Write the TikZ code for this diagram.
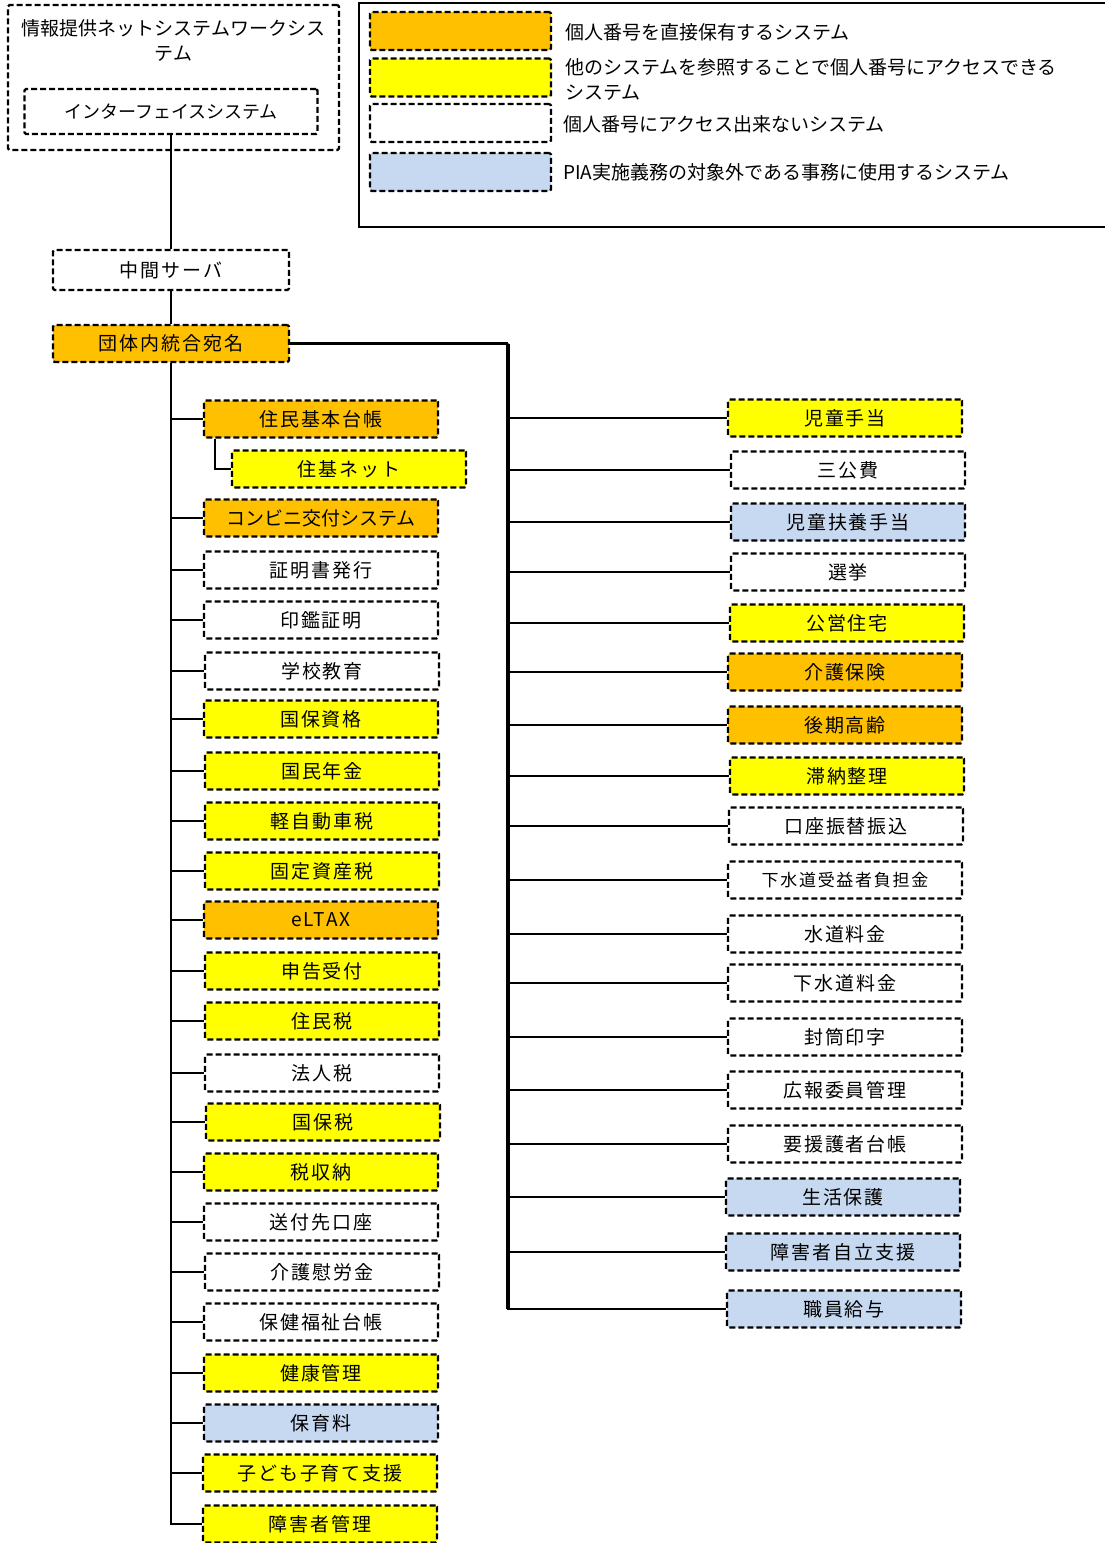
\documentclass[tikz,border=0pt]{standalone}
\usepackage{fontspec}
\setmainfont{Noto Sans CJK JP}
\newfontfamily\boxfont[LetterSpace=10]{Noto Sans CJK JP}
\usetikzlibrary{positioning}
\definecolor{holdcol}{HTML}{FFC000}
\definecolor{refcol}{HTML}{FFFF00}
\definecolor{excol}{HTML}{C6D9F0}

\begin{document}
\begin{tikzpicture}[x=1pt,y=1pt,
plainbox/.style={draw,rectangle,fill=white,dash pattern=on 6pt off 3pt,line width=2.2pt,rounded corners=1.5pt,
    minimum width=234pt,minimum height=37pt,inner sep=0pt,font=\boxfont\fontsize{19}{23}\selectfont},
holdbox/.style={plainbox,fill=holdcol},
refbox/.style={plainbox,fill=refcol},
exbox/.style={plainbox,fill=excol},
link/.style={line width=2.2pt},
legtext/.style={anchor=west,align=left,inner sep=0pt,font=\fontsize{19}{25}\selectfont}]
\useasboundingbox (0,0) rectangle (1105,-1543);

\node (jnws) [plainbox,minimum width=331pt,minimum height=145pt] at (173.5,-77.5) {};
\node (jnwstext) [align=center,inner sep=0pt,font=\fontsize{19}{25}\selectfont] at (173.5,-40) {情報提供ネットシステムワークシス\\テム};
\node (ifsys) [plainbox,minimum width=293pt,minimum height=45pt,font=\fontsize{18}{22}\selectfont] at (171,-111.5) {インターフェイスシステム};
\node (chukan) [plainbox,minimum width=236pt,minimum height=40pt] at (171,-270) {中間サーバ};
\node (aten) [holdbox,minimum width=236pt] at (171,-343.5) {団体内統合宛名};

\draw[line width=2.2pt] (359,-3) rectangle (1110,-227);
\node (leghold) [holdbox,minimum width=181pt,minimum height=38pt] at (460.5,-31) {};
\node (legref) [refbox,minimum width=181pt,minimum height=38pt] at (460.5,-77.5) {};
\node (legplain) [plainbox,minimum width=181pt,minimum height=38pt] at (460.5,-123) {};
\node (legex) [exbox,minimum width=181pt,minimum height=38pt] at (460.5,-172) {};
\node (legholdtext) [legtext] at (565,-32) {個人番号を直接保有するシステム};
\node (legreftext) [legtext] at (565,-79.5) {他のシステムを参照することで個人番号にアクセスできる\\システム};
\node (legplaintext) [legtext] at (563,-124) {個人番号にアクセス出来ないシステム};
\node (legextext) [legtext] at (563,-172) {PIA実施義務の対象外である事務に使用するシステム};

\node (jumin) [holdbox] at (321,-419) {住民基本台帳};
\node (jukinet) [refbox] at (349,-469) {住基ネット};
\node (conv) [holdbox,font=\fontsize{19}{23}\selectfont] at (321,-518) {コンビニ交付システム};
\node (shomei) [plainbox] at (321,-570) {証明書発行};
\node (inkan) [plainbox] at (321,-620) {印鑑証明};
\node (gakko) [plainbox] at (322,-671) {学校教育};
\node (kokuhoshi) [refbox] at (321,-719) {国保資格};
\node (nenkin) [refbox] at (322,-771) {国民年金};
\node (keiji) [refbox] at (322,-821) {軽自動車税};
\node (kotei) [refbox] at (322,-871) {固定資産税};
\node (eltax) [holdbox] at (321,-920) {eLTAX};
\node (shinkoku) [refbox] at (322,-971) {申告受付};
\node (juminzei) [refbox] at (322,-1021) {住民税};
\node (hojin) [plainbox] at (322,-1073) {法人税};
\node (kokuhozei) [refbox] at (323,-1122) {国保税};
\node (shuno) [refbox] at (321,-1172) {税収納};
\node (sofu) [plainbox] at (321,-1222) {送付先口座};
\node (ireikin) [plainbox] at (322,-1272) {介護慰労金};
\node (hoken) [plainbox] at (321,-1322) {保健福祉台帳};
\node (kenko) [refbox] at (321,-1373) {健康管理};
\node (hoiku) [exbox] at (321,-1423) {保育料};
\node (kosodate) [refbox] at (320,-1473) {子ども子育て支援};
\node (shogai) [refbox] at (320,-1524) {障害者管理};

\node (jidote) [refbox] at (845,-418) {児童手当};
\node (sankohi) [plainbox] at (848,-470) {三公費};
\node (fuyo) [exbox] at (848,-522) {児童扶養手当};
\node (senkyo) [plainbox] at (848,-572) {選挙};
\node (koei) [refbox] at (847,-623) {公営住宅};
\node (kaigo) [holdbox] at (845,-672) {介護保険};
\node (kouki) [holdbox] at (845,-725) {後期高齢};
\node (tainou) [refbox] at (847,-776) {滞納整理};
\node (koza) [plainbox] at (846,-826) {口座振替振込};
\node (gesuifutan) [plainbox,font=\boxfont\fontsize{17}{21}\selectfont] at (845,-880) {下水道受益者負担金};
\node (suido) [plainbox] at (845,-934) {水道料金};
\node (gesui) [plainbox] at (845,-983) {下水道料金};
\node (futo) [plainbox] at (845,-1037) {封筒印字};
\node (kohoiin) [plainbox] at (845,-1090) {広報委員管理};
\node (yoengo) [plainbox] at (845,-1144) {要援護者台帳};
\node (seiho) [exbox] at (843,-1197) {生活保護};
\node (jiritsu) [exbox] at (843,-1252) {障害者自立支援};
\node (kyuyo) [exbox] at (844,-1309) {職員給与};

\draw[link] (ifsys.south) -- (chukan.north);
\draw[link] (chukan.south) -- (aten.north);

\coordinate (jbranch) at ([xshift=12pt]jumin.south west);
\draw[link] (jbranch) |- (jukinet.west);
\draw[link] (aten.south) |- (jumin.west);
\draw[link] (aten.south) |- (conv.west);
\draw[link] (aten.south) |- (shomei.west);
\draw[link] (aten.south) |- (inkan.west);
\draw[link] (aten.south) |- (gakko.west);
\draw[link] (aten.south) |- (kokuhoshi.west);
\draw[link] (aten.south) |- (nenkin.west);
\draw[link] (aten.south) |- (keiji.west);
\draw[link] (aten.south) |- (kotei.west);
\draw[link] (aten.south) |- (eltax.west);
\draw[link] (aten.south) |- (shinkoku.west);
\draw[link] (aten.south) |- (juminzei.west);
\draw[link] (aten.south) |- (hojin.west);
\draw[link] (aten.south) |- (kokuhozei.west);
\draw[link] (aten.south) |- (shuno.west);
\draw[link] (aten.south) |- (sofu.west);
\draw[link] (aten.south) |- (ireikin.west);
\draw[link] (aten.south) |- (hoken.west);
\draw[link] (aten.south) |- (kenko.west);
\draw[link] (aten.south) |- (hoiku.west);
\draw[link] (aten.south) |- (kosodate.west);
\draw[link] (aten.south) |- (shogai.west);

\coordinate (rtop) at (508,-343.5);
\draw[link] (aten.east) -- (rtop);
\draw[line width=3.2pt] (rtop) -- (rtop |- kyuyo.west);
\draw[link] (rtop) |- (jidote.west);
\draw[link] (rtop) |- (sankohi.west);
\draw[link] (rtop) |- (fuyo.west);
\draw[link] (rtop) |- (senkyo.west);
\draw[link] (rtop) |- (koei.west);
\draw[link] (rtop) |- (kaigo.west);
\draw[link] (rtop) |- (kouki.west);
\draw[link] (rtop) |- (tainou.west);
\draw[link] (rtop) |- (koza.west);
\draw[link] (rtop) |- (gesuifutan.west);
\draw[link] (rtop) |- (suido.west);
\draw[link] (rtop) |- (gesui.west);
\draw[link] (rtop) |- (futo.west);
\draw[link] (rtop) |- (kohoiin.west);
\draw[link] (rtop) |- (yoengo.west);
\draw[link] (rtop) |- (seiho.west);
\draw[link] (rtop) |- (jiritsu.west);
\draw[link] (rtop) |- (kyuyo.west);
\end{tikzpicture}
\end{document}
